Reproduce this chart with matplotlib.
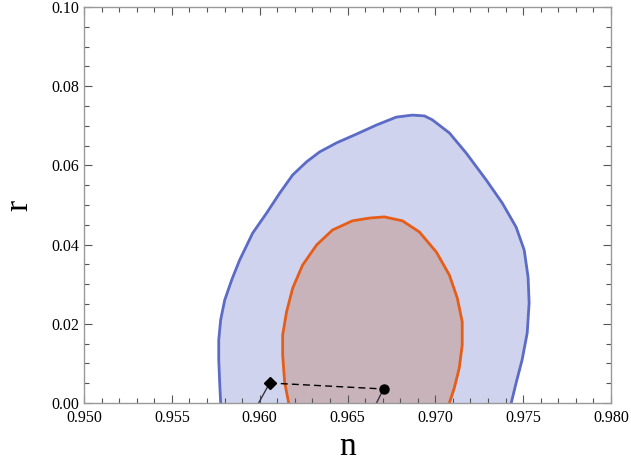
import numpy as np
import matplotlib
matplotlib.use("Agg")
import matplotlib.pyplot as plt
from matplotlib.ticker import MultipleLocator

plt.rcParams['font.family'] = ['Liberation Serif', 'DejaVu Serif']

# 2-sigma contour (blue)
blue_n = [0.95778, 0.95773, 0.95767, 0.95767, 0.95778, 0.95801, 0.95841, 0.95886,
          0.95960, 0.96040, 0.96114, 0.96188, 0.96267, 0.96341,
          0.96438, 0.96551, 0.96665, 0.96778, 0.96869, 0.96938, 0.96983, 0.97080,
          0.97176, 0.97290, 0.97381, 0.97460, 0.97506, 0.97528, 0.97534, 0.97523,
          0.97494, 0.97460, 0.97432]
blue_r = [0.0000, 0.0045, 0.0109, 0.0159, 0.0210, 0.0260, 0.0311, 0.0361,
          0.0429, 0.0480, 0.0530, 0.0576, 0.0609, 0.0634,
          0.0657, 0.0679, 0.0702, 0.0722, 0.0727, 0.0725, 0.0715, 0.0682,
          0.0631, 0.0563, 0.0505, 0.0444, 0.0386, 0.0318, 0.0253, 0.0177,
          0.0109, 0.0051, 0.0000]

# 1-sigma contour (orange)
orange_n = [0.96165, 0.96142, 0.96131, 0.96131, 0.96153, 0.96188, 0.96244, 0.96324,
            0.96415, 0.96528, 0.96625, 0.96710, 0.96813, 0.96909, 0.97006, 0.97080,
            0.97125, 0.97153, 0.97153, 0.97136, 0.97108, 0.97080]
orange_r = [0.0000, 0.0053, 0.0121, 0.0172, 0.0230, 0.0290, 0.0348, 0.0399,
            0.0437, 0.0460, 0.0467, 0.0470, 0.0460, 0.0432, 0.0381, 0.0323,
            0.0265, 0.0205, 0.0146, 0.0088, 0.0038, 0.0000]

# model predictions
diamond = (0.96057, 0.00505)
circle = (0.96705, 0.00354)
diamond_tail = (0.95994, 0.0)
circle_tail = (0.96665, 0.0)

fig = plt.figure(figsize=(6.31, 4.76), dpi=100)
ax = fig.add_axes([84/631, 73/476, 527/631, 396/476])

ax.fill(blue_n, blue_r, color='#cfd3ee', lw=0)
ax.plot(blue_n, blue_r, color='#5b6bc6', lw=2.0, solid_joinstyle='round')
ax.fill(orange_n, orange_r, color='#c8b3bb', lw=0)
ax.plot(orange_n, orange_r, color='#e65d18', lw=2.0, solid_joinstyle='round')

ax.plot([diamond[0], circle[0]], [diamond[1], circle[1]], 'k--', lw=1.0, dashes=(5, 3))
ax.plot([diamond_tail[0], diamond[0]], [diamond_tail[1], diamond[1]], color='#333344', lw=1.0)
ax.plot([circle_tail[0], circle[0]], [circle_tail[1], circle[1]], color='#333344', lw=1.0)
ax.plot(*diamond, marker='D', color='k', ms=6.5)
ax.plot(*circle, marker='o', color='k', ms=6.5)

ax.set_xlim(0.950, 0.980)
ax.set_ylim(0.0, 0.10)
ax.xaxis.set_major_locator(MultipleLocator(0.005))
ax.xaxis.set_minor_locator(MultipleLocator(0.001))
ax.yaxis.set_major_locator(MultipleLocator(0.02))
ax.yaxis.set_minor_locator(MultipleLocator(0.005))
ax.xaxis.set_major_formatter(plt.FormatStrFormatter('%.3f'))
ax.yaxis.set_major_formatter(plt.FormatStrFormatter('%.2f'))
ax.tick_params(which='both', direction='in', top=True, right=True,
               color='#555555', labelsize=11.5, width=0.8)
ax.tick_params(which='major', length=6)
ax.tick_params(which='minor', length=3.5)
ax.tick_params(axis='x', pad=5)
for s in ax.spines.values():
    s.set_color('#999999')
    s.set_linewidth(1.0)

ax.set_xlabel('n', fontsize=24, labelpad=4)
ax.set_ylabel('r', fontsize=24, labelpad=12)

fig.savefig('out.png', dpi=100)
